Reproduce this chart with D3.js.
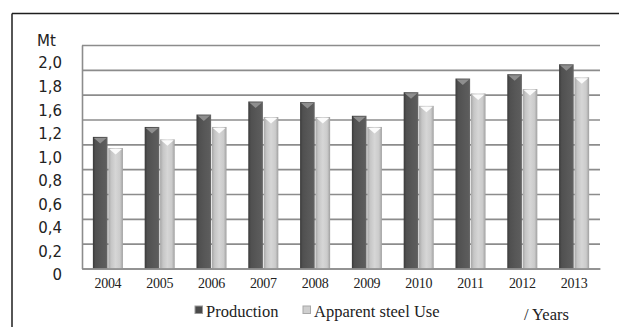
<!DOCTYPE html>
<html>
<head>
<meta charset="utf-8">
<script src="https://cdn.jsdelivr.net/npm/d3@7/dist/d3.min.js"></script>
<style>
  html, body { margin: 0; padding: 0; background: #fff; }
  svg { display: block; }
</style>
</head>
<body>
<svg id="chart" width="619" height="327"></svg>
<script>
// ---- data ----
const years = ['2004','2005','2006','2007','2008','2009','2010','2011','2012','2013'];
const production = [1.06, 1.14, 1.24, 1.345, 1.34, 1.23, 1.42, 1.53, 1.565, 1.645];
const apparentUse = [0.97, 1.04, 1.14, 1.22, 1.22, 1.14, 1.31, 1.41, 1.445, 1.54];
const seriesNames = ['Production', 'Apparent steel Use'];
const gridTicks = [0, 0.2, 0.4, 0.6, 0.8, 1.0, 1.2, 1.4, 1.6, 1.8];
const yTickLabels = ['0','0,2','0,4','0,6','0,8','1,0','1,2','1,6','1,8','2,0'];
const unitLabel = 'Mt';
const xUnitLabel = '/ Years';

// ---- layout ----
const svg = d3.select('#chart');
const plot = { left: 82, right: 600, top: 45, bottom: 268.5 };

const defs = svg.append('defs');
const gDark = defs.append('linearGradient').attr('id', 'gDark').attr('x1', '0').attr('x2', '1').attr('y1', '0').attr('y2', '0');
[[0, '#3a3a3a'], [0.18, '#505050'], [0.6, '#585858'], [0.88, '#5c5c5c'], [1, '#6a6a6a']]
  .forEach(([o, c]) => gDark.append('stop').attr('offset', o).attr('stop-color', c));
const gLight = defs.append('linearGradient').attr('id', 'gLight').attr('x1', '0').attr('x2', '1').attr('y1', '0').attr('y2', '0');
[[0, '#a6a6a6'], [0.2, '#c6c6c6'], [0.5, '#d6d6d6'], [0.8, '#cbcbcb'], [1, '#a0a0a0']]
  .forEach(([o, c]) => gLight.append('stop').attr('offset', o).attr('stop-color', c));

// outer frame (top & left lines)
svg.append('line').attr('x1', 12).attr('x2', 619).attr('y1', 13.5).attr('y2', 13.5)
  .attr('stroke', '#1e1e1e').attr('stroke-width', 1.5);
svg.append('line').attr('x1', 12).attr('x2', 12).attr('y1', 13.5).attr('y2', 327)
  .attr('stroke', '#1e1e1e').attr('stroke-width', 1.5);

// scales
const y = d3.scaleLinear().domain([0, 1.8]).range([plot.bottom, plot.top]);
const x = d3.scaleBand().domain(years).range([plot.left, plot.right]).paddingInner(0.42).paddingOuter(0.21);
const x1 = d3.scaleBand().domain(seriesNames).range([0, x.bandwidth()]).paddingInner(0.05);

// gridlines
const gridAxis = svg.append('g')
  .attr('transform', `translate(${plot.left},0)`)
  .call(d3.axisLeft(y).tickValues(gridTicks).tickSize(-(plot.right - plot.left)).tickSizeOuter(0).tickFormat(''));
gridAxis.selectAll('line').attr('stroke', '#8c8c8c').attr('stroke-width', 1.6);
gridAxis.select('.domain').attr('stroke', '#8c8c8c').attr('stroke-width', 1.6);

// y labels (as printed, evenly spaced)
const labelY = d3.scalePoint().domain(yTickLabels).range([275, 63]);
svg.append('g').selectAll('text').data(yTickLabels).join('text')
  .attr('x', 62).attr('y', d => labelY(d)).attr('dy', '0.36em')
  .attr('text-anchor', 'end')
  .attr('font-family', 'DejaVu Sans, sans-serif').attr('font-size', 15).attr('fill', '#222')
  .text(d => d);
svg.append('text').attr('x', 37).attr('y', labelY('2,0') - 22).attr('dy', '0.36em')
  .attr('font-family', 'DejaVu Sans, sans-serif').attr('font-size', 15).attr('fill', '#222')
  .text(unitLabel);

// bars
const rows = years.map((yr, i) => ({ year: yr, values: [
  { key: seriesNames[0], v: production[i] },
  { key: seriesNames[1], v: apparentUse[i] }
]}));

const groups = svg.append('g').selectAll('g').data(rows).join('g')
  .attr('transform', d => `translate(${x(d.year)},0)`);

groups.selectAll('rect').data(d => d.values).join('rect')
  .attr('x', d => x1(d.key))
  .attr('y', d => y(d.v))
  .attr('width', x1.bandwidth())
  .attr('height', d => y(0) - y(d.v))
  .attr('fill', d => d.key === seriesNames[0] ? 'url(#gDark)' : 'url(#gLight)');

groups.selectAll('path.cap').data(d => d.values).join('path')
  .attr('class', 'cap')
  .attr('d', d => {
    const x0 = x1(d.key), w = x1.bandwidth(), t = y(d.v);
    return `M${x0 + 1},${t + 1}L${x0 + w - 1},${t + 1}L${x0 + w / 2},${t + 6.5}Z`;
  })
  .attr('fill', d => d.key === seriesNames[0] ? '#8e8e8e' : '#fbfbfb');

// x axis
const xAxis = svg.append('g')
  .attr('transform', `translate(0,${plot.bottom})`)
  .call(d3.axisBottom(x).tickSize(0).tickSizeOuter(0).tickPadding(10));
xAxis.select('.domain').attr('stroke', '#8c8c8c').attr('stroke-width', 1.6);
xAxis.selectAll('text')
  .attr('font-family', 'Liberation Serif, Times New Roman, serif')
  .attr('font-size', 14).attr('fill', '#222').attr('letter-spacing', '-0.3');

// legend
const legendItems = [
  { name: seriesNames[0], x: 195, fill: '#4a4a4a', stroke: '#9a9a9a' },
  { name: seriesNames[1], x: 303, fill: '#cfcfcf', stroke: '#a8a8a8' }
];
const lg = svg.append('g').selectAll('g').data(legendItems).join('g')
  .attr('transform', d => `translate(${d.x},306)`);
lg.append('rect').attr('width', 7.5).attr('height', 7.5)
  .attr('fill', d => d.fill).attr('stroke', d => d.stroke).attr('stroke-width', 1);
lg.append('text').attr('x', 11).attr('y', 10.5)
  .attr('font-family', 'Liberation Serif, Times New Roman, serif')
  .attr('font-size', 16.5).attr('fill', '#222')
  .text(d => d.name);

svg.append('text').attr('x', 524).attr('y', 319.5)
  .attr('font-family', 'Liberation Serif, Times New Roman, serif')
  .attr('font-size', 16.5).attr('fill', '#222')
  .text(xUnitLabel);
</script>
</body>
</html>
